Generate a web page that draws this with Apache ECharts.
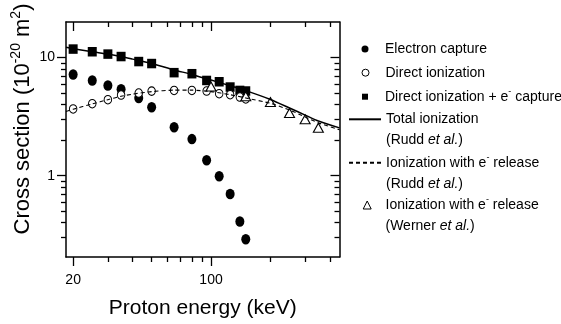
<!DOCTYPE html>
<html>
<head>
<meta charset="utf-8">
<script src="https://cdn.jsdelivr.net/npm/echarts@6/dist/echarts.min.js"></script>
<style>
  html, body { margin: 0; padding: 0; background: #fff; }
  #chart { width: 561px; height: 324px; }
</style>
</head>
<body>
<div id="chart"></div>
<script>
// Measured cross sections: proton energy (keV) vs cross section (1e-20 m^2)
const energyKeV = [20, 25, 30, 35, 43, 50, 65, 80, 95, 110, 125, 140, 150];
const electronCapture = [7.2, 6.4, 5.8, 5.4, 4.55, 3.8, 2.57, 2.04, 1.35, 0.99, 0.70, 0.41, 0.29];
const directIonization = [3.67, 4.07, 4.40, 4.82, 5.01, 5.2, 5.27, 5.27, 5.21, 4.94, 4.85, 4.63, 4.46];
const directPlusCapture = [11.8, 11.2, 10.7, 10.2, 9.25, 8.9, 7.45, 7.3, 6.4, 6.24, 5.63, 5.27, 5.21];

// Rudd et al. curves
const ruddEnergy = [18.4, 20, 25, 30, 35, 40, 50, 65, 80, 100, 125, 150, 200, 250, 300, 350, 448];
const ruddTotal = [12.2, 11.9, 11.2, 10.7, 10.2, 9.7, 8.9, 7.85, 7.2, 6.45, 5.78, 5.25, 4.42, 3.74, 3.26, 2.9, 2.54];
const ruddRelease = [3.5, 3.65, 4.05, 4.4, 4.7, 4.9, 5.15, 5.3, 5.3, 5.15, 4.85, 4.55, 4.1, 3.6, 3.14, 2.8, 2.45];

// Werner et al. data
const wernerEnergy = [100, 150, 200, 250, 300, 350];
const wernerRelease = [5.7, 4.7, 4.2, 3.4, 3.0, 2.55];

// Axis ticks
const xMajorTicks = [20, 100];
const xMinorTicks = [30, 40, 50, 60, 70, 80, 90, 200, 300, 400];
const yMajorTicks = [1, 10];
const yMinorTicks = [0.3, 0.4, 0.5, 0.6, 0.7, 0.8, 0.9, 2, 3, 4, 5, 6, 7, 8, 9];

const FONT = '"Liberation Sans", Arial, Helvetica, sans-serif';
const X_RANGE = { min: 18.4, max: 448 };
const Y_RANGE = { min: 0.205, max: 20 };

const pair = (xs, ys) => xs.map((x, i) => [x, ys[i]]);

function makeAxis(range, position, ticks, len, inside, extra) {
  return Object.assign({
    type: 'log',
    logBase: 10,
    min: range.min,
    max: range.max,
    position: position,
    offset: 0,
    axisLine: { show: false, onZero: false, lineStyle: { color: '#000', width: 1.5 } },
    axisTick: { show: true, inside: inside, length: len, customValues: ticks,
                lineStyle: { color: '#000', width: 1.3 } },
    axisLabel: { show: false },
    splitLine: { show: false },
    minorTick: { show: false },
    minorSplitLine: { show: false }
  }, extra || {});
}

const axisLabelStyle = (vals, margin) => ({
  show: true, customValues: vals, margin: margin,
  fontSize: 14, color: '#000', fontFamily: FONT
});

const xAxes = [
  makeAxis(X_RANGE, 'bottom', xMajorTicks, 9, false, {
    axisLine: { show: true, onZero: false, lineStyle: { color: '#000', width: 1.5 } },
    axisLabel: axisLabelStyle(xMajorTicks, 16),
    name: 'Proton energy (keV)',
    nameLocation: 'middle',
    nameGap: 41,
    nameTextStyle: { fontSize: 21, color: '#000', fontFamily: FONT }
  }),
  makeAxis(X_RANGE, 'bottom', xMinorTicks, 5, false),
  makeAxis(X_RANGE, 'top', xMajorTicks, 9, true, {
    axisLine: { show: true, onZero: false, lineStyle: { color: '#000', width: 1.5 } }
  }),
  makeAxis(X_RANGE, 'top', xMinorTicks, 5, true)
];

const yAxes = [
  makeAxis(Y_RANGE, 'left', yMajorTicks, 9, false, {
    axisLine: { show: true, onZero: false, lineStyle: { color: '#000', width: 1.5 } },
    axisLabel: axisLabelStyle(yMajorTicks, 11),
    name: 'Cross section (10{sup|-20} m{sup|2})',
    nameLocation: 'middle',
    nameRotate: 90,
    nameGap: 27,
    nameTextStyle: {
      fontSize: 22, color: '#000', fontFamily: FONT,
      padding: [0, 0, 0, 41],
      rich: { sup: { fontSize: 14, lineHeight: 14, fontFamily: FONT, color: '#000', padding: [0, 0, 12, 0] } }
    }
  }),
  makeAxis(Y_RANGE, 'left', yMinorTicks, 5, false),
  makeAxis(Y_RANGE, 'right', yMajorTicks, 9, true, {
    axisLine: { show: true, onZero: false, lineStyle: { color: '#000', width: 1.5 } }
  }),
  makeAxis(Y_RANGE, 'right', yMinorTicks, 5, true)
];

// Series names and their legend text
const NAME_EC = 'Electron capture';
const NAME_DI = 'Direct ionization';
const NAME_DIEC = 'Direct ionization + e- capture';
const NAME_TOT = 'Total ionization (Rudd et al.)';
const NAME_REL_R = 'Ionization with e- release (Rudd et al.)';
const NAME_REL_W = 'Ionization with e- release (Werner et al.)';

const legendText = {};
legendText[NAME_EC] = 'Electron capture';
legendText[NAME_DI] = 'Direct ionization';
legendText[NAME_DIEC] = 'Direct ionization + e{sup|-} capture';
legendText[NAME_TOT] = 'Total ionization\n(Rudd {it|et al.})';
legendText[NAME_REL_R] = 'Ionization with e{sup|-} release\n(Rudd {it|et al.})';
legendText[NAME_REL_W] = 'Ionization with e{sup|-} release\n(Werner {it|et al.})';

function legendEntry(name, left, top, cfg) {
  const leg = {
    show: true,
    data: [cfg.icon ? { name: name, icon: cfg.icon } : { name: name }],
    left: left,
    top: top,
    orient: 'vertical',
    padding: 0,
    itemGap: 0,
    itemWidth: cfg.w,
    itemHeight: cfg.h,
    selectedMode: false,
    formatter: (n) => legendText[n],
    textStyle: {
      fontFamily: FONT, fontSize: 14, color: '#000', lineHeight: 21,
      padding: [cfg.twoLine ? 21 : 0, 0, 0, cfg.padLeft || 0],
      rich: {
        it: { fontStyle: 'italic', fontSize: 14, lineHeight: 21, fontFamily: FONT, color: '#000' },
        sup: { fontSize: 9, lineHeight: 9, fontFamily: FONT, color: '#000', padding: [0, 0, 11, 0] }
      }
    }
  };
  if (cfg.itemStyle) leg.itemStyle = cfg.itemStyle;
  return leg;
}

const openStyle = { color: '#fff', borderColor: '#000', borderWidth: 1, opacity: 1 };
const solidStyle = { color: '#000', opacity: 1 };
// line legends show only the stroke, no point marker
const lineOnly = { opacity: 0 };

const legends = [
  legendEntry(NAME_EC, 361.5, 38.5, { icon: 'circle', w: 7, h: 7, padLeft: 11.5, itemStyle: solidStyle }),
  legendEntry(NAME_DI, 361.5, 62.2, { icon: 'circle', w: 7, h: 7, padLeft: 11.5, itemStyle: openStyle }),
  legendEntry(NAME_DIEC, 362, 86.2, { icon: 'rect', w: 6, h: 6, padLeft: 12, itemStyle: solidStyle }),
  legendEntry(NAME_TOT, 348, 87.8, { w: 32, h: 8, twoLine: true, itemStyle: lineOnly }),
  legendEntry(NAME_REL_R, 348, 131.2, { w: 32, h: 8, twoLine: true, itemStyle: lineOnly }),
  legendEntry(NAME_REL_W, 362.7, 173.5, { icon: 'triangle', w: 8, h: 8, padLeft: 9.3, twoLine: true, itemStyle: openStyle })
];

const series = [
  {
    name: NAME_EC, type: 'scatter', xAxisIndex: 0, yAxisIndex: 0,
    symbol: 'circle', symbolSize: [9, 10.5],
    itemStyle: { color: '#000', opacity: 1 },
    data: pair(energyKeV, electronCapture), z: 2
  },
  {
    name: NAME_DIEC, type: 'scatter', xAxisIndex: 0, yAxisIndex: 0,
    symbol: 'rect', symbolSize: [9, 9.5],
    itemStyle: { color: '#000', opacity: 1 },
    data: pair(energyKeV, directPlusCapture), z: 2
  },
  {
    name: NAME_DI, type: 'scatter', xAxisIndex: 0, yAxisIndex: 0,
    symbol: 'circle', symbolSize: [7.5, 8.5],
    itemStyle: { color: '#fff', borderColor: '#000', borderWidth: 1, opacity: 1 },
    data: pair(energyKeV, directIonization), z: 2
  },
  {
    name: NAME_REL_W, type: 'scatter', xAxisIndex: 0, yAxisIndex: 0,
    symbol: 'triangle', symbolSize: [10, 9],
    itemStyle: { color: '#fff', borderColor: '#000', borderWidth: 1.1, opacity: 1 },
    data: pair(wernerEnergy, wernerRelease), z: 2
  },
  {
    name: NAME_TOT, type: 'line', xAxisIndex: 0, yAxisIndex: 0,
    symbol: 'none', smooth: 0.2,
    lineStyle: { color: '#000', width: 1.5 },
    itemStyle: { color: '#000' },
    data: pair(ruddEnergy, ruddTotal), z: 3
  },
  {
    name: NAME_REL_R, type: 'line', xAxisIndex: 0, yAxisIndex: 0,
    symbol: 'none', smooth: 0.2,
    lineStyle: { color: '#000', width: 1.1, type: [4, 3] },
    itemStyle: { color: '#000' },
    data: pair(ruddEnergy, ruddRelease), z: 3
  }
];

const chart = echarts.init(document.getElementById('chart'), null, { renderer: 'canvas' });
chart.setOption({
  animation: false,
  backgroundColor: '#fff',
  textStyle: { fontFamily: FONT },
  grid: { left: 66, right: 221.5, top: 22, bottom: 66, containLabel: false },
  xAxis: xAxes,
  yAxis: yAxes,
  legend: legends,
  series: series
});
</script>
</body>
</html>
